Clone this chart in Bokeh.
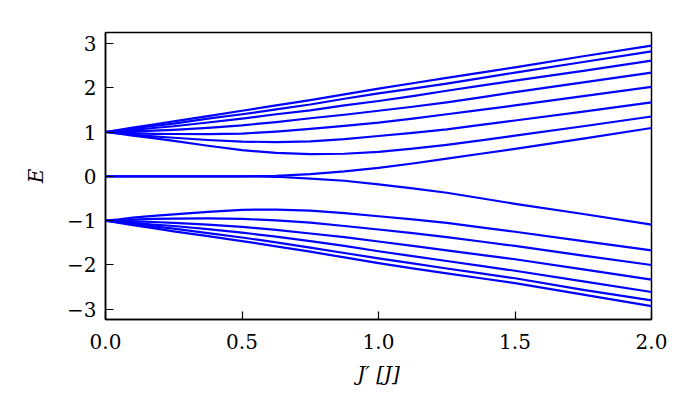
from bokeh.plotting import figure
from bokeh.models import FixedTicker, Range1d
from bokeh.embed import file_html
from bokeh.resources import INLINE

# J' sample positions
jp = [0.0, 0.05, 0.1, 0.175, 0.25, 0.375, 0.5, 0.625, 0.75, 0.875, 1.0, 1.125, 1.25, 1.375, 1.5, 1.75, 2.0]

# upper band (from E = 1), top to bottom
u1 = [1.0, 1.05, 1.10, 1.17, 1.24, 1.36, 1.48, 1.60, 1.72, 1.85, 1.98, 2.10, 2.22, 2.34, 2.46, 2.71, 2.95]
u2 = [1.0, 1.04, 1.08, 1.135, 1.19, 1.30, 1.40, 1.51, 1.62, 1.75, 1.87, 1.98, 2.09, 2.215, 2.34, 2.58, 2.82]
u3 = [1.0, 1.02, 1.05, 1.09, 1.13, 1.215, 1.30, 1.40, 1.49, 1.60, 1.70, 1.81, 1.93, 2.045, 2.16, 2.38, 2.61]
u4 = [1.0, 1.005, 1.015, 1.03, 1.05, 1.095, 1.15, 1.225, 1.31, 1.39, 1.48, 1.57, 1.67, 1.78, 1.90, 2.12, 2.34]
u5 = [1.0, 0.99, 0.975, 0.96, 0.955, 0.95, 0.965, 1.01, 1.07, 1.14, 1.21, 1.30, 1.40, 1.50, 1.60, 1.81, 2.02]
u6 = [1.0, 0.97, 0.94, 0.90, 0.87, 0.82, 0.785, 0.77, 0.79, 0.84, 0.91, 0.98, 1.06, 1.16, 1.26, 1.46, 1.67]
u7 = [1.0, 0.96, 0.92, 0.86, 0.80, 0.69, 0.59, 0.53, 0.50, 0.51, 0.55, 0.625, 0.71, 0.81, 0.92, 1.13, 1.35]

# lower band (from E = -1), top to bottom
l1 = [-1.0, -0.97, -0.93, -0.89, -0.86, -0.80, -0.755, -0.75, -0.775, -0.83, -0.90, -0.97, -1.05, -1.15, -1.25, -1.46, -1.67]
l2 = [-1.0, -0.99, -0.975, -0.96, -0.955, -0.95, -0.96, -0.995, -1.045, -1.12, -1.20, -1.28, -1.37, -1.47, -1.57, -1.79, -2.00]
l3 = [-1.0, -1.005, -1.015, -1.03, -1.05, -1.09, -1.14, -1.21, -1.29, -1.37, -1.47, -1.57, -1.67, -1.77, -1.87, -2.10, -2.33]
l4 = [-1.0, -1.02, -1.05, -1.09, -1.12, -1.19, -1.27, -1.36, -1.46, -1.57, -1.69, -1.80, -1.91, -2.02, -2.13, -2.37, -2.61]
l5 = [-1.0, -1.04, -1.08, -1.13, -1.18, -1.28, -1.38, -1.49, -1.61, -1.73, -1.85, -1.965, -2.08, -2.19, -2.30, -2.56, -2.80]
l6 = [-1.0, -1.05, -1.10, -1.17, -1.24, -1.35, -1.46, -1.58, -1.70, -1.83, -1.96, -2.075, -2.19, -2.30, -2.41, -2.67, -2.93]

# zero modes that split
z_plus = [0.0, 0.0, 0.0, 0.0, 0.0, 0.0, 0.0, 0.01, 0.05, 0.11, 0.19, 0.29, 0.40, 0.51, 0.62, 0.85, 1.09]
z_minus = [0.0, 0.0, 0.0, 0.0, 0.0, 0.0, 0.0, -0.01, -0.05, -0.10, -0.18, -0.27, -0.37, -0.495, -0.62, -0.85, -1.09]

x_ticks = [0.0, 0.5, 1.0, 1.5, 2.0]
x_tick_labels = ["0.0", "0.5", "1.0", "1.5", "2.0"]
y_ticks = [-3, -2, -1, 0, 1, 2, 3]
y_tick_labels = ["\u22123", "\u22122", "\u22121", "0", "1", "2", "3"]

p = figure(width=700, height=400, x_range=Range1d(0, 2), y_range=Range1d(-3.23, 3.245),
           output_backend="svg", toolbar_location=None,
           min_border_left=105, min_border_right=49, min_border_top=32, min_border_bottom=81)

for ys in [u1, u2, u3, u4, u5, u6, u7, l1, l2, l3, l4, l5, l6, z_plus, z_minus]:
    p.line(jp, ys, line_color="#0000ff", line_width=2.2, line_join="round")

p.grid.visible = False
p.outline_line_color = "black"
p.outline_line_width = 1.5
p.outline_line_alpha = 1.0
p.background_fill_color = "white"
p.border_fill_color = "white"

font = "DejaVu Serif"
for ax in [p.xaxis[0], p.yaxis[0]]:
    ax.axis_line_color = "black"
    ax.axis_line_width = 1.5
    ax.major_tick_in = 8
    ax.major_tick_out = 0
    ax.major_tick_line_width = 1.2
    ax.major_tick_line_color = "black"
    ax.minor_tick_line_color = None
    ax.major_label_text_font = font
    ax.major_label_text_font_size = "20px"
    ax.major_label_text_color = "black"
    ax.axis_label_text_font = font
    ax.axis_label_text_font_size = "20px"
    ax.axis_label_text_font_style = "italic"
    ax.axis_label_text_color = "black"

p.xaxis[0].ticker = FixedTicker(ticks=x_ticks)
p.xaxis[0].major_label_overrides = {t: s for t, s in zip(x_ticks, x_tick_labels)}
p.yaxis[0].ticker = FixedTicker(ticks=y_ticks)
p.yaxis[0].major_label_overrides = {t: s for t, s in zip(y_ticks, y_tick_labels)}
p.xaxis[0].major_label_standoff = 14
p.yaxis[0].major_label_standoff = 9
p.xaxis[0].axis_label = "J\u2032 [J]"
p.yaxis[0].axis_label = "E"
p.xaxis[0].axis_label_standoff = 10
p.yaxis[0].axis_label_standoff = 16

open("out.html", "w").write(file_html(p, INLINE))
